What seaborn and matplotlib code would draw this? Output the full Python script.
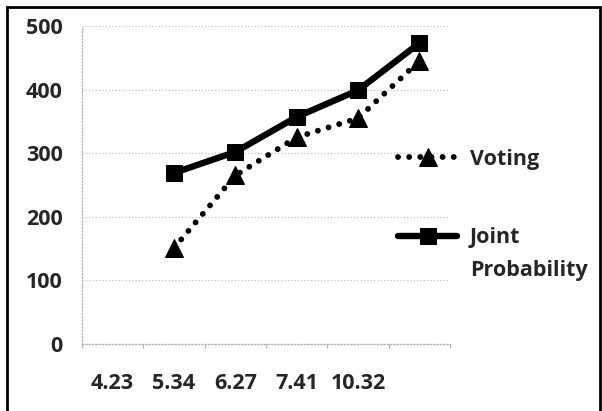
import numpy as np
import pandas as pd
import seaborn as sns
import matplotlib.pyplot as plt
from matplotlib.patches import Rectangle

# x categories as printed under the axis (last slot has no label in the source)
categories = ['4.23', '5.34', '6.27', '7.41', '10.32', '']
voting = [np.nan, 151, 265, 325, 355, 445]
joint = [np.nan, 269, 302, 357, 399, 473]
y_ticks = [0, 100, 200, 300, 400, 500]

sns.set_style('white')
plt.rcParams['font.family'] = ['Open Sans', 'DejaVu Sans']
plt.rcParams['font.weight'] = 'bold'
FS = 15.5

fig = plt.figure(figsize=(6.02, 4.11), dpi=100)
ax = fig.add_axes([82 / 602, 1 - 344 / 411, 368 / 602, 318 / 411])

pos = np.arange(len(categories))
df = pd.DataFrame({'pos': pos, 'Voting': voting, 'Joint': joint})

sns.lineplot(data=df, x='pos', y='Voting', ax=ax, color='black', marker='^',
             markersize=13.5, markeredgecolor='black', linewidth=4.2,
             linestyle=(0, (0.01, 1.9)), dash_capstyle='round', label='Voting')
sns.lineplot(data=df, x='pos', y='Joint', ax=ax, color='black', marker='s',
             markersize=11.5, markeredgecolor='black', linewidth=4.6,
             label='Joint')

ax.set_xlim(-0.5, len(categories) - 0.5)
ax.set_ylim(0, 500)
ax.set_yticks(y_ticks)
ax.set_xticks(np.arange(-0.5, len(categories), 1))
ax.set_xticklabels([])
ax.set_xticks(pos, minor=True)
ax.set_xticklabels(categories, minor=True)
ax.tick_params(axis='x', which='major', length=3, color='#b0b0b0', bottom=True)
ax.tick_params(axis='x', which='minor', length=0, pad=21, labelsize=FS)
ax.tick_params(axis='y', length=0, pad=14, labelsize=FS)
ax.set_xlabel('')
ax.set_ylabel('')

ax.yaxis.grid(True, color='#c0c0c0', linestyle=':', linewidth=0.9)
for s in ['top', 'right']:
    ax.spines[s].set_visible(False)
for s in ['left', 'bottom']:
    ax.spines[s].set_color('#b0b0b0')
    ax.spines[s].set_linestyle(':')
    ax.spines[s].set_linewidth(0.9)

handles, labels = ax.get_legend_handles_labels()
leg = ax.legend(handles, labels, loc='upper left', bbox_to_anchor=(398 / 602, 1 - 149 / 411),
                bbox_transform=fig.transFigure, frameon=False, borderpad=0, borderaxespad=0,
                handlelength=2.75, handletextpad=0.6, labelspacing=2.67,
                prop={'weight': 'bold', 'size': FS})

# second line of the "Joint Probability" legend entry, placed under "Joint"
fig.canvas.draw()
jb = leg.get_texts()[1].get_window_extent()
fig.text(jb.x0 / fig.bbox.width, (jb.y0 - 12) / fig.bbox.height, 'Probability',
         ha='left', va='top', fontsize=FS, fontweight='bold')

# outer frame of the scanned chart
fig.patches.append(Rectangle((7 / 602, -0.1), (600 - 7) / 602, 1 - 7 / 411 + 0.1,
                             transform=fig.transFigure, fill=False,
                             edgecolor='black', linewidth=2))

fig.savefig('out.png', dpi=100)
